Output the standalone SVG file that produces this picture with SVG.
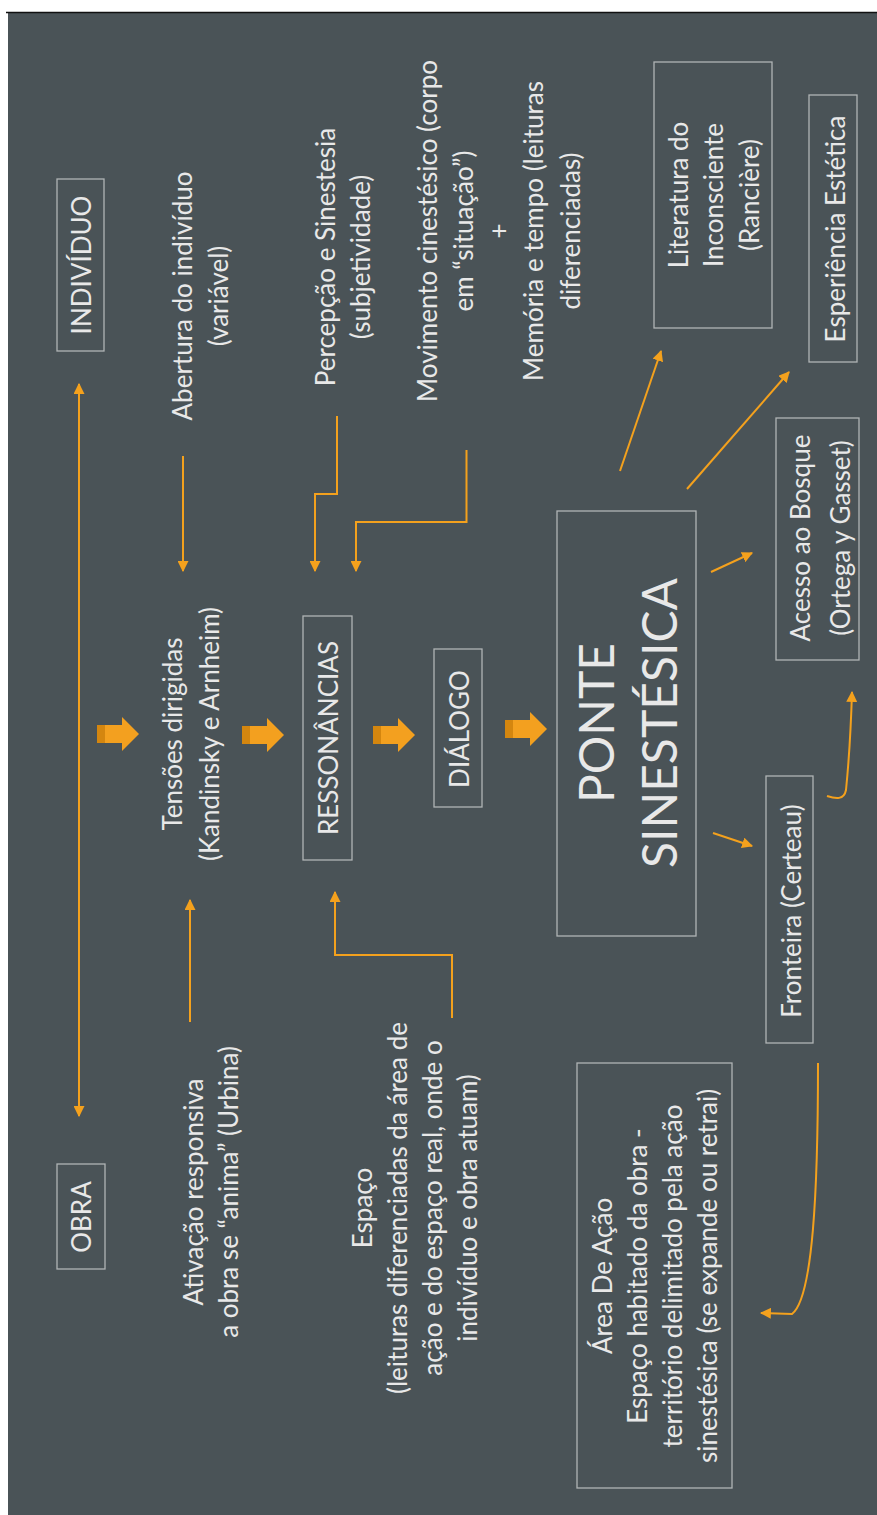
<svg xmlns="http://www.w3.org/2000/svg" width="877" height="1515" viewBox="0 0 877 1515">
<defs>
<style>
.t{font-family:Lato,"Open Sans","Liberation Sans",sans-serif;font-size:26px;fill:#e8e8e8;text-anchor:middle}
.big{font-size:48px}
.box{fill:none;stroke:#b0b4b5;stroke-width:1.3}
.c{fill:none;stroke:#f4a11d;stroke-width:2}
</style>
<marker id="ah" viewBox="0 0 10 10" refX="9" refY="5" markerWidth="11" markerHeight="11" markerUnits="userSpaceOnUse" orient="auto-start-reverse"><path d="M0,0 L10,5 L0,10 z" fill="#f4a11d"/></marker>
<g id="blk">
<rect x="0" y="-9" width="25" height="18" fill="#f3a01f"/>
<rect x="0" y="-9" width="8" height="18" fill="#d4860f"/>
<polygon points="25,-17 42,0 25,17" fill="#f3a01f"/>
</g>
</defs>
<rect x="0" y="0" width="877" height="1515" fill="#ffffff"/>
<rect x="8" y="12" width="869" height="1503" fill="#4a5357"/>
<line x1="6" y1="12.5" x2="877" y2="12.5" stroke="#111" stroke-width="1.5"/>

<g id="individuo">
<rect class="box" x="57" y="179" width="47" height="172"/>
<text class="t" transform="translate(0,265) rotate(-90)"><tspan x="0" y="91">INDIVÍDUO</tspan></text>
</g>
<g id="obra">
<rect class="box" x="57" y="1164" width="48" height="105"/>
<text class="t" transform="translate(0,1217) rotate(-90)"><tspan x="0" y="91">OBRA</tspan></text>
</g>
<g id="abertura">
<text class="t" transform="translate(0,296) rotate(-90)"><tspan x="0" y="192">Abertura do indivíduo</tspan><tspan x="0" y="228">(variável)</tspan></text>
</g>
<g id="tensoes">
<text class="t" transform="translate(0,734) rotate(-90)"><tspan x="0" y="182">Tensões dirigidas</tspan><tspan x="0" y="219">(Kandinsky e Arnheim)</tspan></text>
</g>
<g id="ativacao">
<text class="t" transform="translate(0,1192) rotate(-90)"><tspan x="0" y="203">Ativação responsiva</tspan><tspan x="0" y="238">a obra se “anima” (Urbina)</tspan></text>
</g>
<g id="percepcao">
<text class="t" transform="translate(0,257) rotate(-90)"><tspan x="0" y="335">Percepção e Sinestesia</tspan><tspan x="0" y="370">(subjetividade)</tspan></text>
</g>
<g id="movimento">
<text class="t" transform="translate(0,231) rotate(-90)"><tspan x="0" y="437">Movimento cinestésico (corpo</tspan><tspan x="0" y="473">em “situação”)</tspan><tspan x="0" y="508">+</tspan><tspan x="0" y="543">Memória e tempo (leituras</tspan><tspan x="0" y="580">diferenciadas)</tspan></text>
</g>
<g id="ressonancias">
<rect class="box" x="303" y="616" width="49" height="244"/>
<text class="t" transform="translate(0,738) rotate(-90)"><tspan x="0" y="338">RESSONÂNCIAS</tspan></text>
</g>
<g id="dialogo">
<rect class="box" x="434" y="649" width="48" height="158"/>
<text class="t" transform="translate(0,729) rotate(-90)"><tspan x="0" y="469">DIÁLOGO</tspan></text>
</g>
<g id="espaco">
<text class="t" transform="translate(0,1208) rotate(-90)"><tspan x="0" y="372">Espaço</tspan><tspan x="0" y="407">(leituras diferenciadas da área de</tspan><tspan x="0" y="442">ação e do espaço real, onde o</tspan><tspan x="0" y="477">indivíduo e obra atuam)</tspan></text>
</g>
<g id="ponte">
<rect class="box" x="557" y="511" width="139" height="425"/>
<text class="t big" transform="translate(0,723) rotate(-90)"><tspan x="0" y="614">PONTE</tspan><tspan x="0" y="677">SINESTÉSICA</tspan></text>
</g>
<g id="literatura">
<rect class="box" x="654" y="62" width="118" height="266"/>
<text class="t" transform="translate(0,195) rotate(-90)"><tspan x="0" y="688">Literatura do</tspan><tspan x="0" y="723">Inconsciente</tspan><tspan x="0" y="759">(Rancière)</tspan></text>
</g>
<g id="esperiencia">
<rect class="box" x="809" y="95" width="48" height="267"/>
<text class="t" transform="translate(0,229) rotate(-90)"><tspan x="0" y="845">Esperiência Estética</tspan></text>
</g>
<g id="acesso">
<rect class="box" x="776" y="418" width="83" height="242"/>
<text class="t" transform="translate(0,538) rotate(-90)"><tspan x="0" y="810">Acesso ao Bosque</tspan><tspan x="0" y="850">(Ortega y Gasset)</tspan></text>
</g>
<g id="fronteira">
<rect class="box" x="766" y="776" width="47" height="267"/>
<text class="t" transform="translate(0,911) rotate(-90)"><tspan x="0" y="801">Fronteira (Certeau)</tspan></text>
</g>
<g id="area">
<rect class="box" x="577" y="1063" width="155" height="425"/>
<text class="t" transform="translate(0,1276) rotate(-90)"><tspan x="0" y="612">Área De Ação</tspan><tspan x="0" y="647">Espaço habitado da obra -</tspan><tspan x="0" y="682">território delimitado pela ação</tspan><tspan x="0" y="717">sinestésica (se expande ou retrai)</tspan></text>
</g>

<g id="connectors">
<line class="c" x1="79" y1="384" x2="79" y2="1116" marker-start="url(#ah)" marker-end="url(#ah)"/>
<line class="c" x1="183" y1="456" x2="183" y2="571" marker-end="url(#ah)"/>
<line class="c" x1="190" y1="1022" x2="190" y2="900" marker-end="url(#ah)"/>
<polyline class="c" points="337,416 337,494 315,494 315,571" marker-end="url(#ah)"/>
<polyline class="c" points="466.5,450 466.5,522 356,522 356,571" marker-end="url(#ah)"/>
<polyline class="c" points="452,1018 452,955 335,955 335,892" marker-end="url(#ah)"/>
<line class="c" x1="620" y1="471" x2="661" y2="351" marker-end="url(#ah)"/>
<line class="c" x1="687" y1="489" x2="789" y2="372" marker-end="url(#ah)"/>
<line class="c" x1="711" y1="572" x2="752" y2="553" marker-end="url(#ah)"/>
<line class="c" x1="713" y1="833" x2="752" y2="846" marker-end="url(#ah)"/>
<path class="c" d="M827,796 C836,799 844,800 846,790 C849,760 851,725 852,692" marker-end="url(#ah)"/>
<path class="c" d="M818,1063 C818,1190 813,1298 792,1314 L761,1313" marker-end="url(#ah)"/>
<use href="#blk" x="97" y="734"/>
<use href="#blk" x="242" y="735"/>
<use href="#blk" x="373" y="735"/>
<use href="#blk" x="505" y="729"/>
</g>
</svg>
